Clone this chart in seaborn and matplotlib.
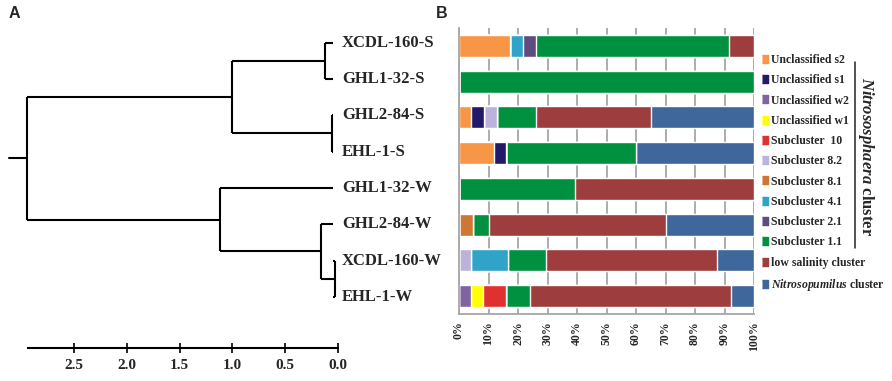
import numpy as np
import pandas as pd
import matplotlib
matplotlib.use("Agg")
import matplotlib.pyplot as plt
from matplotlib.lines import Line2D
import seaborn as sns

# samples, top to bottom (same order in tree and bar chart)
samples = ["XCDL-160-S", "GHL1-32-S", "GHL2-84-S", "EHL-1-S",
           "GHL1-32-W", "GHL2-84-W", "XCDL-160-W", "EHL-1-W"]

# tree merges: (child a, child b, height); ids >= 8 are earlier merges
merges = [(0, 1, 0.12), (2, 3, 0.05), (6, 7, 0.025), (5, 10, 0.16),
          (8, 9, 1.0), (4, 11, 1.12), (12, 13, 2.95)]
root_stub = 3.12
tree_ticks = [0.0, 0.5, 1.0, 1.5, 2.0, 2.5]

# composition (%) of each sample
groups = ["Unclassified s2", "Unclassified s1", "Unclassified w2", "Unclassified w1",
          "Subcluster  10", "Subcluster 8.2", "Subcluster 8.1", "Subcluster 4.1",
          "Subcluster 2.1", "Subcluster 1.1", "low salinity cluster",
          "Nitrosopumilus cluster"]
unclass_s2 = [17.4, 0, 4.2, 11.9, 0, 0, 0, 0]
unclass_s1 = [0, 0, 4.3, 4.2, 0, 0, 0, 0]
unclass_w2 = [0, 0, 0, 0, 0, 0, 0, 4.0]
unclass_w1 = [0, 0, 0, 0, 0, 0, 0, 4.0]
sub_10 = [0, 0, 0, 0, 0, 0, 0, 7.9]
sub_8_2 = [0, 0, 4.5, 0, 0, 0, 4.0, 0]
sub_8_1 = [0, 0, 0, 0, 0, 4.7, 0, 0]
sub_4_1 = [4.3, 0, 0, 0, 0, 0, 12.7, 0]
sub_2_1 = [4.3, 0, 0, 0, 0, 0, 0, 0]
sub_1_1 = [65.5, 100, 13.0, 43.8, 39.2, 5.3, 12.7, 8.1]
low_salinity = [8.5, 0, 39.2, 0, 60.8, 60.0, 58.2, 68.1]
nitrosopumilus = [0, 0, 34.8, 40.1, 0, 30.0, 12.5, 7.9]

colors = ["#F79646", "#211A6B", "#8064A2", "#FFFF00", "#E03030", "#BBB3DA",
          "#CC7733", "#2FA3C8", "#5F4B80", "#009140", "#9E3D3D", "#3F679B"]

df = pd.DataFrame(dict(zip(groups, [unclass_s2, unclass_s1, unclass_w2, unclass_w1,
                                    sub_10, sub_8_2, sub_8_1, sub_4_1, sub_2_1,
                                    sub_1_1, low_salinity, nitrosopumilus])),
                  index=samples)
cum = df.cumsum(axis=1)

sns.set_theme(style="white")
plt.rcParams["font.family"] = ["Liberation Serif", "DejaVu Serif"]
plt.rcParams["font.weight"] = "bold"
plt.rcParams["mathtext.fontset"] = "custom"
plt.rcParams["mathtext.it"] = "Liberation Serif:italic:bold"
plt.rcParams["mathtext.rm"] = "Liberation Serif:bold"

W, H = 892, 381
fig = plt.figure(figsize=(W / 100, H / 100), dpi=100)


def px_axes(x0, y0, x1, y1):
    return fig.add_axes([x0 / W, 1 - y1 / H, (x1 - x0) / W, (y1 - y0) / H])


# ---- A: dendrogram ----
ax1 = px_axes(0, 28, 450, 347.7)
leaf_end = 0.04
lw = 1.5
pos = {i: (leaf_end, float(i)) for i in range(len(samples))}
nid = len(samples)
for a, b, h in merges:
    (ha_, ya), (hb, yb) = pos[a], pos[b]
    ax1.plot([ha_, h], [ya, ya], color="black", lw=lw, solid_capstyle="butt")
    ax1.plot([hb, h], [yb, yb], color="black", lw=lw, solid_capstyle="butt")
    ax1.plot([h, h], [ya, yb], color="black", lw=lw, solid_capstyle="butt")
    pos[nid] = (h, (ya + yb) / 2)
    nid += 1
rh, ry = pos[nid - 1]
ax1.plot([rh, root_stub], [ry, ry], color="black", lw=lw)

for i, s in enumerate(samples):
    ax1.text(-0.04, i, s, ha="left", va="center", fontsize=12, fontweight="bold")

ax1.set_xlim((337.7 - 0) / 105.4, (337.7 - 450) / 105.4)
ax1.set_ylim(8.40, -0.405)
for side in ["top", "right", "left"]:
    ax1.spines[side].set_visible(False)
ax1.spines["bottom"].set_bounds(0, 2.935)
ax1.spines["bottom"].set_linewidth(1.5)
ax1.spines["bottom"].set_color("black")
ax1.set_yticks([])
ax1.set_xticks(tree_ticks)
ax1.set_xticklabels([f"{t:.1f}" for t in tree_ticks], fontsize=11, fontweight="bold")
ax1.tick_params(axis="x", direction="inout", length=6.5, width=1.2, pad=5,
                bottom=True, color="black")

# ---- B: stacked bars ----
ax2 = px_axes(459, 28, 754, 314)
ax2.set_axisbelow(True)
for g, c in reversed(list(zip(groups, colors))):
    sns.barplot(x=cum[g].values, y=samples, color=c, orient="h", width=0.62,
                saturation=1, errorbar=None, ax=ax2)
ax2.set_xlim(0, 100)
ax2.set_ylim(7.5, -0.5)
ax2.set_xticks(np.arange(0, 101, 10))
ax2.set_xticklabels([f"{v}%" for v in range(0, 101, 10)], rotation=90,
                    fontsize=8.5, fontweight="bold", va="top", ha="center")
ax2.tick_params(axis="x", length=0, pad=5)
ax2.set_yticks([])
ax2.set_xlabel("")
ax2.set_ylabel("")
ax2.grid(axis="x", color="#A6A6A6", lw=1.3)
ax2.spines["top"].set_visible(False)
ax2.spines["right"].set_visible(False)
for side in ["left", "bottom"]:
    ax2.spines[side].set_color("#A6A6A6")
    ax2.spines[side].set_linewidth(1.3)

labels = groups[:-1] + [r"$\mathit{Nitrosopumilus}$ cluster"]
rect = [(-0.33, -0.5), (0.33, -0.5), (0.33, 0.5), (-0.33, 0.5)]
handles = [Line2D([], [], marker=rect, ls="", color=c, markersize=6) for c in colors]
ax2.legend(handles, labels, loc="upper left", bbox_to_anchor=(762.5 / W, 1 - 54 / H),
           bbox_transform=fig.transFigure, frameon=False,
           handlelength=0.5, handletextpad=0.25, labelspacing=0.70,
           borderpad=0, borderaxespad=0, prop={"weight": "bold", "size": 8.5})

fig.add_artist(Line2D([855 / W, 855 / W], [1 - 61.7 / H, 1 - 248 / H],
                      transform=fig.transFigure, color="#222222", lw=1.1))
fig.text(866 / W, 1 - 157 / H, r"$\mathit{Nitrososphaera}$ cluster", rotation=270,
         ha="center", va="center", fontsize=12, fontweight="bold")

# panel letters
fig.text(14 / W, 1 - 13.5 / H, "A", ha="center", va="center", fontsize=11.5,
         fontweight="bold", family="Liberation Sans")
fig.text(442 / W, 1 - 13.5 / H, "B", ha="center", va="center", fontsize=11.5,
         fontweight="bold", family="Liberation Sans")

fig.savefig("out.png", dpi=100)
